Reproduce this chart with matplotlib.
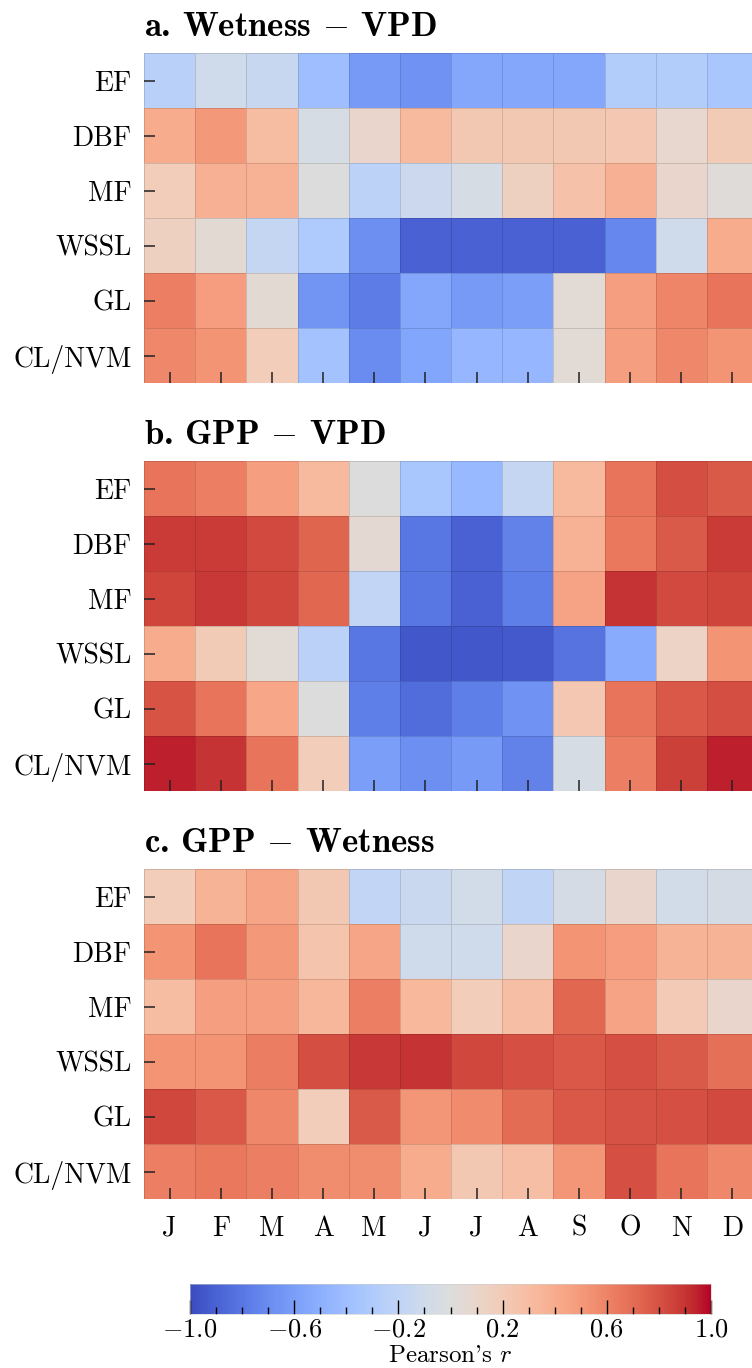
import matplotlib
matplotlib.use("Agg")
import matplotlib.pyplot as plt
import numpy as np
from matplotlib.ticker import MultipleLocator

plt.rcParams['font.family'] = 'serif'
plt.rcParams['font.serif'] = ['cmr10']
plt.rcParams['mathtext.fontset'] = 'cm'
plt.rcParams['axes.formatter.use_mathtext'] = True
plt.rcParams['axes.unicode_minus'] = True

# land cover classes (rows) and months (columns)
covers = ['EF', 'DBF', 'MF', 'WSSL', 'GL', 'CL/NVM']
months = ['J', 'F', 'M', 'A', 'M', 'J', 'J', 'A', 'S', 'O', 'N', 'D']

# a. Wetness - VPD
wet_vpd = [
    [-0.25, -0.10, -0.15, -0.40, -0.62, -0.67, -0.55, -0.55, -0.55, -0.28, -0.28, -0.33],
    [0.40, 0.50, 0.30, -0.05, 0.10, 0.32, 0.22, 0.22, 0.22, 0.23, 0.08, 0.20],
    [0.18, 0.38, 0.37, 0.00, -0.22, -0.13, -0.05, 0.15, 0.27, 0.38, 0.10, 0.02],
    [0.15, 0.05, -0.17, -0.30, -0.68, -0.90, -0.90, -0.90, -0.90, -0.72, -0.10, 0.40],
    [0.62, 0.48, 0.05, -0.65, -0.78, -0.55, -0.62, -0.60, 0.04, 0.47, 0.60, 0.67],
    [0.58, 0.53, 0.18, -0.37, -0.70, -0.56, -0.45, -0.45, 0.04, 0.47, 0.58, 0.53],
]

# b. GPP - VPD
gpp_vpd = [
    [0.67, 0.62, 0.47, 0.32, 0.00, -0.33, -0.43, -0.17, 0.32, 0.67, 0.82, 0.77],
    [0.88, 0.88, 0.83, 0.73, 0.06, -0.80, -0.90, -0.75, 0.37, 0.65, 0.77, 0.88],
    [0.85, 0.89, 0.84, 0.72, -0.18, -0.80, -0.90, -0.76, 0.45, 0.90, 0.83, 0.85],
    [0.40, 0.20, 0.04, -0.23, -0.80, -0.95, -0.95, -0.93, -0.82, -0.53, 0.13, 0.53],
    [0.79, 0.67, 0.43, 0.00, -0.76, -0.85, -0.76, -0.66, 0.23, 0.67, 0.78, 0.82],
    [0.95, 0.90, 0.67, 0.18, -0.60, -0.68, -0.62, -0.75, -0.05, 0.62, 0.86, 0.95],
]

# c. GPP - Wetness
gpp_wet = [
    [0.18, 0.36, 0.44, 0.22, -0.18, -0.14, -0.08, -0.20, -0.06, 0.10, -0.08, -0.06],
    [0.53, 0.67, 0.50, 0.25, 0.44, -0.10, -0.10, 0.10, 0.53, 0.48, 0.36, 0.36],
    [0.30, 0.47, 0.47, 0.34, 0.62, 0.33, 0.18, 0.29, 0.72, 0.45, 0.21, 0.10],
    [0.53, 0.53, 0.63, 0.82, 0.89, 0.90, 0.84, 0.81, 0.78, 0.81, 0.77, 0.68],
    [0.84, 0.78, 0.58, 0.18, 0.77, 0.52, 0.57, 0.70, 0.78, 0.80, 0.81, 0.83],
    [0.62, 0.65, 0.62, 0.56, 0.56, 0.40, 0.22, 0.29, 0.52, 0.81, 0.67, 0.58],
]

panels = [wet_vpd, gpp_vpd, gpp_wet]
titles = ['a. Wetness $-$ VPD', 'b. GPP $-$ VPD', 'c. GPP $-$ Wetness']

W, H = 752, 1368
fig = plt.figure(figsize=(W / 100, H / 100), dpi=100)

tops = [53, 461, 869]
left, right = 144, 758
panel_h = 330

for i in range(3):
    ax = fig.add_axes([left / W, 1 - (tops[i] + panel_h) / H, (right - left) / W, panel_h / H])
    data = np.array(panels[i])
    mesh = ax.pcolormesh(data, cmap='coolwarm', vmin=-1, vmax=1,
                         edgecolors=(0, 0, 0, 0.13), linewidth=0.7)
    ax.set_xlim(0, len(months))
    ax.set_ylim(len(covers), 0)
    ax.set_yticks(np.arange(len(covers)) + 0.5)
    ax.set_yticklabels(covers)
    ax.set_xticks(np.arange(len(months)) + 0.5)
    if i == 2:
        ax.set_xticklabels(months)
    else:
        ax.set_xticklabels([])
    ax.tick_params(direction='in', length=8, width=1.1, color='#222222',
                   labelsize=20, pad=9)
    ax.tick_params(axis='x', pad=12)
    for s in ax.spines.values():
        s.set_visible(False)
    ax.set_title(titles[i], loc='left', fontsize=25, pad=12, family='cmb10')

cax = fig.add_axes([190 / W, 1 - 1314 / H, 521 / W, 30 / H])
cb = fig.colorbar(mesh, cax=cax, orientation='horizontal')
cb.set_ticks([-1.0, -0.6, -0.2, 0.2, 0.6, 1.0])
cax.xaxis.set_minor_locator(MultipleLocator(0.1))
cax.tick_params(which='major', direction='in', length=10, width=1, labelsize=19, pad=3)
cax.tick_params(which='minor', direction='in', length=5, width=1)
cb.outline.set_linewidth(0.4)
cb.outline.set_edgecolor('#cccccc')
cb.set_label("Pearson's $r$", fontsize=18, va='bottom')
cax.xaxis.set_label_coords(0.5, -(1367 - 1314) / 30)

fig.savefig('out.png', dpi=100)
